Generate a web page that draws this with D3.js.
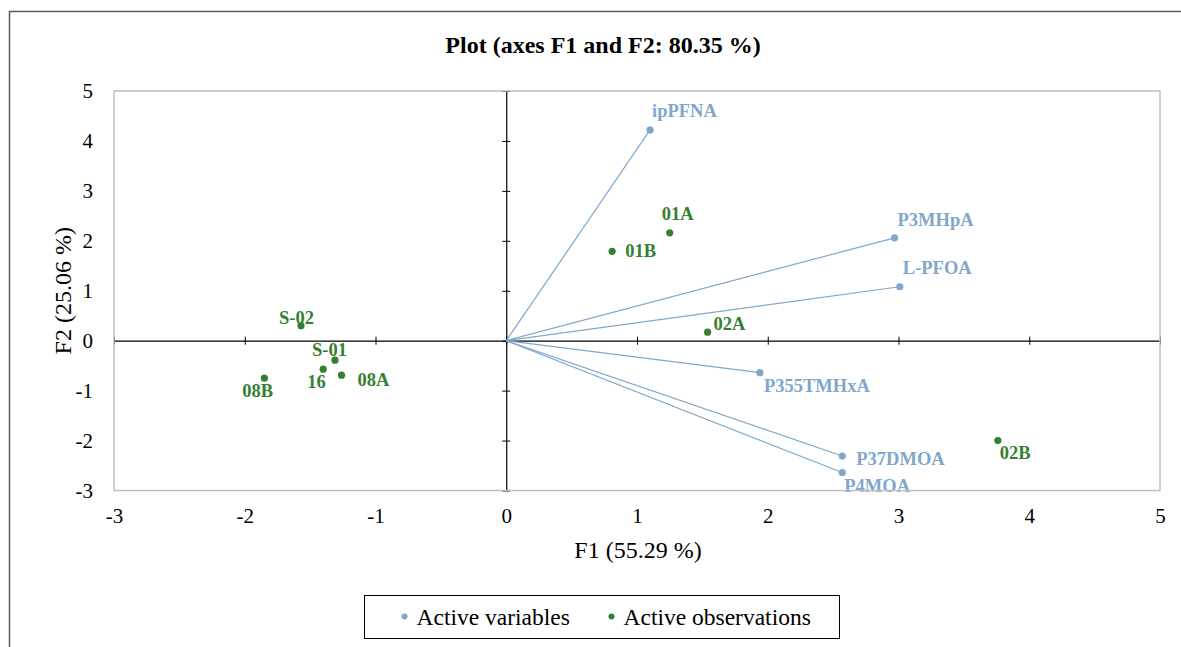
<!DOCTYPE html>
<html>
<head>
<meta charset="utf-8">
<script src="https://cdn.jsdelivr.net/npm/d3@7"></script>
<style>
  body { margin: 0; background: #fff; }
  svg { display: block; font-family: "Liberation Serif", "Times New Roman", serif; }
</style>
</head>
<body>
<svg></svg>
<script>
// PCA biplot data
const varNames = ['ipPFNA', 'P3MHpA', 'L-PFOA', 'P355TMHxA', 'P37DMOA', 'P4MOA'];
const varF1 = [1.10, 2.97, 3.01, 1.94, 2.57, 2.57];
const varF2 = [4.22, 2.06, 1.08, -0.64, -2.31, -2.64];

const obsNames = ['01A', '01B', '02A', '02B', 'S-02', 'S-01', '16', '08A', '08B'];
const obsF1 = [1.25, 0.81, 1.54, 3.76, -1.57, -1.31, -1.40, -1.26, -1.85];
const obsF2 = [2.16, 1.79, 0.17, -2.00, 0.30, -0.39, -0.57, -0.69, -0.75];

const tickValues = [-3, -2, -1, 0, 1, 2, 3, 4, 5];

// label placement (pixel offsets from the point)
const labelOffset = {
  'ipPFNA': [2, -13], 'P3MHpA': [3, -12], 'L-PFOA': [3, -13], 'P355TMHxA': [4, 19],
  'P37DMOA': [14, 9], 'P4MOA': [2, 19],
  '01A': [-8, -13], '01B': [13, 6], '02A': [6, -2], '02B': [2, 18],
  'S-02': [-22, -2], 'S-01': [-23, -4], '16': [-16, 19], '08A': [16, 11], '08B': [-22, 19]
};

const width = 1181;
const height = 647;
const blue = '#7fa7cb';
const green = '#338033';

const svg = d3.select('svg')
  .attr('width', width)
  .attr('height', height);

const x = d3.scaleLinear().domain([-3, 5]).range([114, 1160]);
const y = d3.scaleLinear().domain([-3, 5]).range([490.5, 91]);

// outer frame (partially visible)
svg.append('path')
  .attr('d', `M9.5,${height} V11.5 H${width}`)
  .attr('fill', 'none')
  .attr('stroke', '#595959')
  .attr('stroke-width', 1.5);

// title
svg.append('text')
  .attr('x', 603)
  .attr('y', 53)
  .attr('text-anchor', 'middle')
  .style('font-size', '24px')
  .style('font-weight', 'bold')
  .text('Plot (axes F1 and F2: 80.35 %)');

// tick labels on the plot edges
const fmt = d => String(d);

const xLabels = svg.append('g')
  .attr('transform', `translate(0, ${y(-3) + 15})`)
  .call(d3.axisBottom(x).tickValues(tickValues).tickSize(0).tickFormat(fmt));
xLabels.select('.domain').remove();

const yLabels = svg.append('g')
  .attr('transform', `translate(${x(-3) - 18}, 0)`)
  .call(d3.axisLeft(y).tickValues(tickValues).tickSize(0).tickFormat(fmt));
yLabels.select('.domain').remove();

[xLabels, yLabels].forEach(g => {
  g.attr('font-family', null).attr('font-size', null);
  g.selectAll('text').style('font-size', '21px').attr('fill', '#000');
});

// axis titles
svg.append('text')
  .attr('x', 638)
  .attr('y', 558)
  .attr('text-anchor', 'middle')
  .style('font-size', '24px')
  .text('F1 (55.29 %)');

svg.append('text')
  .attr('transform', `translate(71, ${y(1)}) rotate(-90)`)
  .attr('text-anchor', 'middle')
  .style('font-size', '24px')
  .text('F2 (25.06 %)');

// axes through the origin with cross ticks
const xZero = svg.append('g')
  .attr('transform', `translate(0, ${y(0)})`)
  .call(d3.axisBottom(x).tickValues(tickValues).tickSizeOuter(0).tickFormat(''));
xZero.selectAll('.tick line').attr('y1', -4).attr('y2', 4);

const yZero = svg.append('g')
  .attr('transform', `translate(${x(0)}, 0)`)
  .call(d3.axisLeft(y).tickValues(tickValues).tickSizeOuter(0).tickFormat(''));
yZero.selectAll('.tick line').attr('x1', -4).attr('x2', 4);

svg.selectAll('.domain').attr('stroke', '#000').attr('stroke-width', 1.2);
svg.selectAll('.tick line').attr('stroke', '#000');

// variable vectors
const vars = varNames.map((name, i) => ({ name, f1: varF1[i], f2: varF2[i] }));
const obs = obsNames.map((name, i) => ({ name, f1: obsF1[i], f2: obsF2[i] }));

svg.append('g').selectAll('line')
  .data(vars)
  .join('line')
  .attr('x1', x(0))
  .attr('y1', y(0))
  .attr('x2', d => x(d.f1))
  .attr('y2', d => y(d.f2))
  .attr('stroke', blue)
  .attr('stroke-width', 1.2);

svg.append('g').selectAll('circle')
  .data(vars)
  .join('circle')
  .attr('cx', d => x(d.f1))
  .attr('cy', d => y(d.f2))
  .attr('r', 3.6)
  .attr('fill', blue);

svg.append('g').selectAll('text')
  .data(vars)
  .join('text')
  .attr('x', d => x(d.f1) + labelOffset[d.name][0])
  .attr('y', d => y(d.f2) + labelOffset[d.name][1])
  .attr('fill', blue)
  .style('font-size', '18.5px')
  .style('font-weight', 'bold')
  .text(d => d.name);

// observations
svg.append('g').selectAll('circle')
  .data(obs)
  .join('circle')
  .attr('cx', d => x(d.f1))
  .attr('cy', d => y(d.f2))
  .attr('r', 3.6)
  .attr('fill', green);

svg.append('g').selectAll('text')
  .data(obs)
  .join('text')
  .attr('x', d => x(d.f1) + labelOffset[d.name][0])
  .attr('y', d => y(d.f2) + labelOffset[d.name][1])
  .attr('fill', green)
  .style('font-size', '18.5px')
  .style('font-weight', 'bold')
  .text(d => d.name);

// plot area border
svg.append('rect')
  .attr('x', x(-3))
  .attr('y', y(5))
  .attr('width', x(5) - x(-3))
  .attr('height', y(-3) - y(5))
  .attr('fill', 'none')
  .attr('stroke', '#c0c0c0')
  .attr('stroke-width', 1.5);

// legend
const legend = svg.append('g').attr('transform', 'translate(364.5, 595.5)');
legend.append('rect')
  .attr('width', 475)
  .attr('height', 43)
  .attr('fill', '#fff')
  .attr('stroke', '#000')
  .attr('stroke-width', 1);

const legendItems = [
  { label: 'Active variables', color: blue, x: 40 },
  { label: 'Active observations', color: green, x: 247 }
];
legendItems.forEach(item => {
  legend.append('circle')
    .attr('cx', item.x)
    .attr('cy', 21)
    .attr('r', 3)
    .attr('fill', item.color);
  legend.append('text')
    .attr('x', item.x + 12)
    .attr('y', 29)
    .style('font-size', '23.5px')
    .text(item.label);
});
</script>
</body>
</html>
